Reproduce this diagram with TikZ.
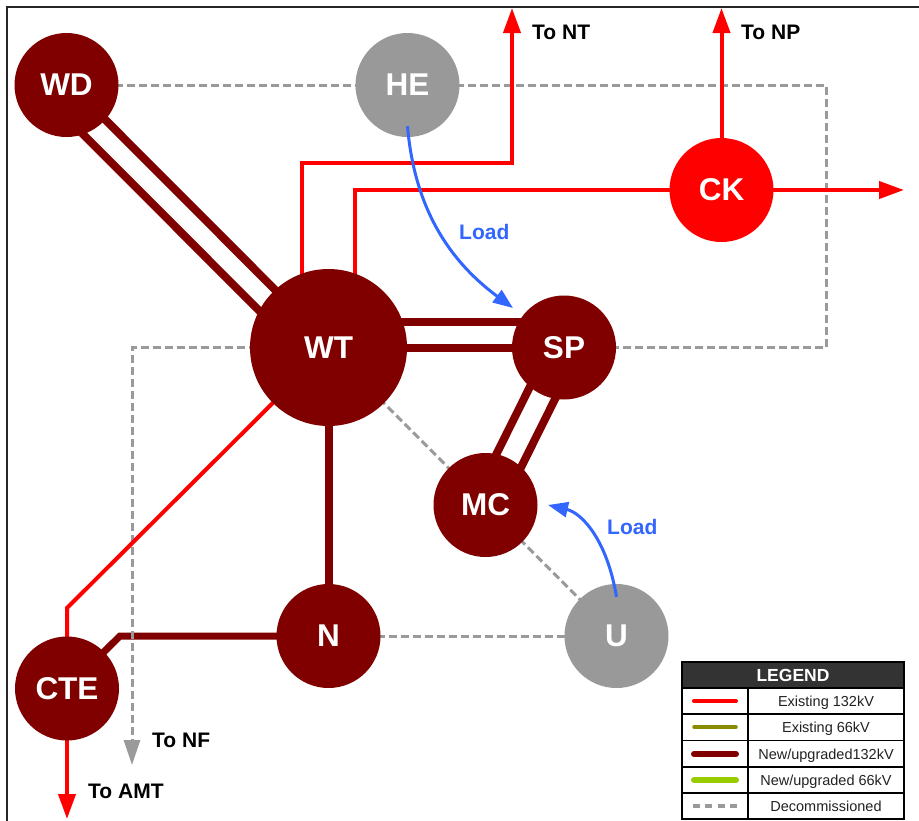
\documentclass[tikz,border=0pt]{standalone}
\usepackage{fontspec}
\setmainfont{Liberation Sans}
\usetikzlibrary{arrows.meta,backgrounds,calc}
\definecolor{dkred}{HTML}{800000}
\definecolor{brred}{HTML}{FF0000}
\definecolor{nodegray}{HTML}{999999}
\definecolor{dashgray}{HTML}{9A9A9A}
\definecolor{loadblue}{HTML}{3366FF}
\definecolor{olivel}{HTML}{8B8B00}
\definecolor{limel}{HTML}{99CC00}
\definecolor{hdrgray}{HTML}{333333}
\definecolor{legtext}{HTML}{222222}
\begin{document}
\begin{tikzpicture}[x=1pt,y=-1pt,
  stn/.style={circle,minimum size=104pt,inner sep=0pt,text=white,
    font=\fontsize{31.5}{31.5}\selectfont\bfseries},
  lbl/.style={font=\fontsize{21}{21}\selectfont\bfseries,inner sep=0pt,text=black},
  loadlbl/.style={font=\fontsize{21}{21}\selectfont\bfseries,inner sep=0pt,text=loadblue},
  newline/.style={draw=dkred,line width=8pt},
  exline/.style={draw=brred,line width=4pt},
  decline/.style={draw=dashgray,line width=3pt,dash pattern=on 8pt off 4pt},
  bigtip/.style={-{Triangle[length=25pt,width=17pt]}},
  loadarrow/.style={draw=loadblue,line width=3pt,-{Triangle[length=20pt,width=15pt]}},
  legbox/.style={draw=black,line width=1.5pt},
  legtxt/.style={font=\fontsize{14.5}{14.5}\selectfont,text=legtext,inner sep=0pt,anchor=base},
  legsample/.style={line cap=round}
]
\useasboundingbox (0,0) rectangle (919,820);

% stations
\node[stn,fill=dkred] (WD) at (66.5,85) {WD};
\node[stn,fill=nodegray] (HE) at (407.5,85) {HE};
\node[stn,fill=brred] (CK) at (721.5,190) {CK};
\node[stn,fill=dkred,minimum size=157pt] (WT) at (328.5,347.5) {WT};
\node[stn,fill=dkred] (SP) at (564,347.5) {SP};
\node[stn,fill=dkred] (MC) at (485.5,505) {MC};
\node[stn,fill=dkred] (N) at (328.5,636) {N};
\node[stn,fill=nodegray] (U) at (616.5,636) {U};
\node[stn,fill=dkred] (CTE) at (67,688.5) {CTE};

% helper coordinates
\coordinate (decR) at (826,85);
\coordinate (nfc) at (132,347.5);
\coordinate (nf) at (132,765);
\coordinate (ctek) at (67,608);
\coordinate (nk) at (120,636);
\coordinate (amt) at (67,819);
\coordinate (ntk) at (302,163);
\coordinate (nt) at (512,8);
\coordinate (ckk) at (355,190);
\coordinate (np) at (721.5,8);
\coordinate (cke) at (904,190);

\begin{pgfonlayer}{background}
  \fill[white] (0,0) rectangle (919,820);
  % new / upgraded 132kV
  \draw[newline] ([shift={(2.1,-2.1)}]WD.center) -- ([shift={(2.1,-2.1)}]WT.center);
  \draw[newline] ([shift={(-16.3,16.3)}]WD.center) -- ([shift={(-16.3,16.3)}]WT.center);
  \draw[newline] (WT.center) -- (SP.center);
  \draw[newline] ([shift={(0,-26)}]WT.center) -- ([shift={(0,-26)}]SP.center);
  \draw[newline] ([shift={(-11.6,-5.8)}]SP.center) -- ([shift={(-11.6,-5.8)}]MC.center);
  \draw[newline] ([shift={(13.4,6.7)}]SP.center) -- ([shift={(13.4,6.7)}]MC.center);
  \draw[newline] (WT.center) -- (N.center);
  \draw[newline,line width=7pt] (N.center) -- (nk) -- (CTE.center);
  % decommissioned
  \draw[decline] (WD.center) -- (HE.center);
  \draw[decline] (HE.center) -- (decR) |- (SP.center);
  \draw[decline] (WT.center) -- (MC.center);
  \draw[decline] (MC.center) -- (U.center);
  \draw[decline] (N.center) -- (U.center);
  \draw[decline,-{Triangle[length=25pt,width=16pt,fill=dashgray]}] (WT.center) -- (nfc) -- (nf);
  % existing 132kV
  \draw[exline] (WT.center) -- (ctek) -- (CTE.center);
  \draw[exline,bigtip] (CTE.center) -- (amt);
  \draw[exline,bigtip] (WT.center -| ntk) -- (ntk) -| (nt);
  \draw[exline] (WT.center -| ckk) -- (ckk) -- (CK.center);
  \draw[exline,bigtip] (CK.center) -- (np);
  \draw[exline,bigtip] (CK.center) -- (cke);
\end{pgfonlayer}

% load transfer arrows
\draw[loadarrow] ([yshift=11]HE.south) .. controls (415,215) and (455,265) .. (513,308);
\draw[loadarrow] ([yshift=-13]U.north) .. controls (607,540) and (582,513) .. (548,505);
\node[loadlbl,anchor=west] (load1) at (459,232) {Load};
\node[loadlbl,anchor=west] (load2) at (607,527) {Load};

% destination labels
\node[lbl,anchor=west] (lnt) at (532,32) {To NT};
\node[lbl,anchor=west] (lnp) at (741,32) {To NP};
\node[lbl,anchor=west] (lnf) at (152,740) {To NF};
\node[lbl,anchor=west] (lamt) at (88,791) {To AMT};

% frame
\draw[line width=2pt,black!85] (7,822) -- (7,7) -- (921,7);

% legend
\fill[hdrgray] (682,662) rectangle (904,688);
\node[font=\fontsize{17.5}{17.5}\selectfont\bfseries,text=white,inner sep=0pt] (leghead) at (793,675) {LEGEND};
\draw[legbox] (682,662) rectangle (904,819);
\foreach \ya/\yb in {688/714,714/740.5,740.5/767,767/793,793/819}{
  \draw[legbox] (682,\ya) rectangle (748,\yb);
  \draw[legbox] (748,\ya) rectangle (904,\yb);
}
\coordinate (ls1) at (694,701);   \coordinate (le1) at (736,701);
\coordinate (ls2) at (694,727);   \coordinate (le2) at (736,727);
\coordinate (ls3) at (694,754);   \coordinate (le3) at (736,754);
\coordinate (ls4) at (694,780);   \coordinate (le4) at (736,780);
\coordinate (ls5) at (693,806);   \coordinate (le5) at (737,806);
\draw[legsample,draw=brred,line width=4pt] (ls1) -- (le1);
\draw[legsample,draw=olivel,line width=3.5pt] (ls2) -- (le2);
\draw[legsample,draw=dkred,line width=6pt] (ls3) -- (le3);
\draw[legsample,draw=limel,line width=6pt] (ls4) -- (le4);
\draw[draw=dashgray,line width=3.5pt,dash pattern=on 7pt off 5.3pt] (ls5) -- (le5);
\node[legtxt] (lt1) at (826,706.2) {Existing 132kV};
\node[legtxt] (lt2) at (826,732.2) {Existing 66kV};
\node[legtxt] (lt3) at (826,759.2) {New/upgraded132kV};
\node[legtxt] (lt4) at (826,785.2) {New/upgraded 66kV};
\node[legtxt] (lt5) at (826,811.2) {Decommissioned};
\end{tikzpicture}
\end{document}
